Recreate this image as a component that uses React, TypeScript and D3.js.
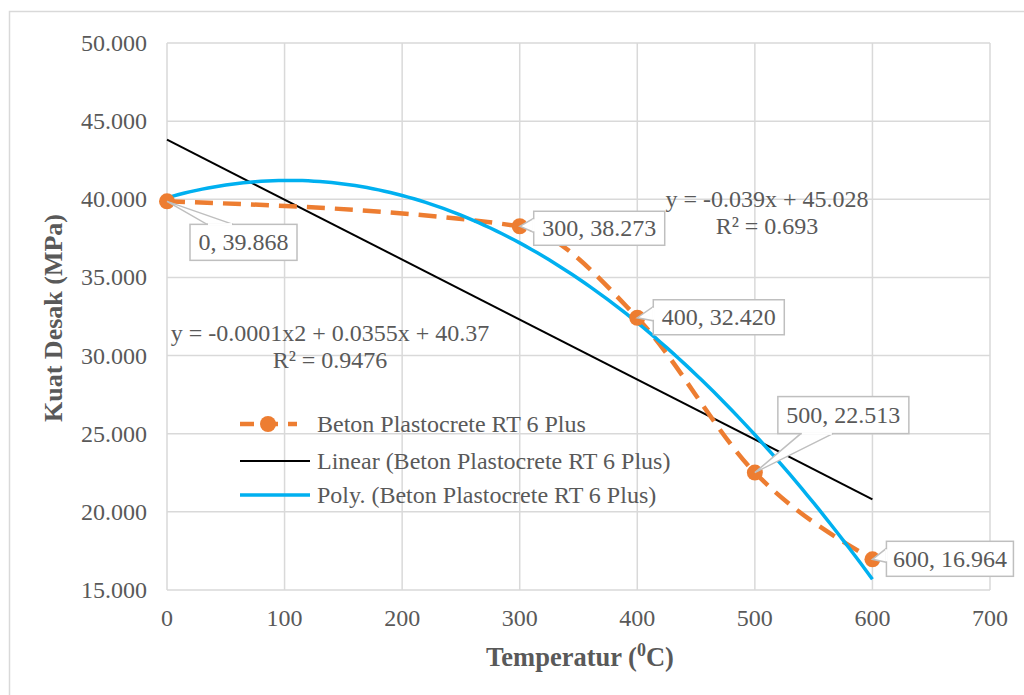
import React from "react";
import * as d3 from "d3";

const temps = [0, 300, 400, 500, 600];
const strength = [39.868, 38.273, 32.42, 22.513, 16.964];
const xTicks = [0, 100, 200, 300, 400, 500, 600, 700];
const yTicks = [15, 20, 25, 30, 35, 40, 45, 50];
const seriesName = "Beton Plastocrete RT 6 Plus";
const linEqText = ["y = -0.039x + 45.028", "R² = 0.693"];
const polyEqText = ["y = -0.0001x2 + 0.0355x + 40.37", "R² = 0.9476"];

// label placement (style): offset from the point, size, wedge side
const labelStyle = [
  { dx: 23, dy: 23, w: 107, h: 36, side: "top", a: 17, b: 43 },
  { dx: 14, dy: -15, w: 131, h: 34, side: "left", a: 7, b: 21 },
  { dx: 16, dy: -18, w: 131, h: 35, side: "left", a: 7, b: 21 },
  { dx: 23, dy: -76, w: 131, h: 37, side: "bottom", a: 23, b: 55 },
  { dx: 14, dy: -18, w: 127, h: 35, side: "left", a: 7, b: 21 },
];

function linFit(xs: number[], ys: number[]) {
  const n = xs.length;
  const mx = d3.mean(xs)!, my = d3.mean(ys)!;
  let sxy = 0, sxx = 0;
  for (let i = 0; i < n; i++) {
    sxy += (xs[i] - mx) * (ys[i] - my);
    sxx += (xs[i] - mx) ** 2;
  }
  const m = sxy / sxx;
  return (x: number) => my + m * (x - mx);
}

function quadFit(xs: number[], ys: number[]) {
  const S = (p: number) => d3.sum(xs, (x) => x ** p);
  const T = (p: number) => d3.sum(xs.map((x, i) => x ** p * ys[i]));
  const A = [
    [S(0), S(1), S(2), T(0)],
    [S(1), S(2), S(3), T(1)],
    [S(2), S(3), S(4), T(2)],
  ];
  for (let i = 0; i < 3; i++) {
    for (let k = i + 1; k < 3; k++) {
      const f = A[k][i] / A[i][i];
      for (let j = i; j < 4; j++) A[k][j] -= f * A[i][j];
    }
  }
  const c = [0, 0, 0];
  for (let i = 2; i >= 0; i--) {
    let s = A[i][3];
    for (let j = i + 1; j < 3; j++) s -= A[i][j] * c[j];
    c[i] = s / A[i][i];
  }
  return (x: number) => c[0] + c[1] * x + c[2] * x * x;
}

export default function App() {
  const W = 1024, H = 695;
  const x = d3.scaleLinear().domain([0, 700]).range([167, 990]);
  const y = d3.scaleLinear().domain([15, 50]).range([590, 43]);
  const font = "Liberation Serif, Times New Roman, DejaVu Serif, serif";
  const grey = "#595959";
  const grid = "#d9d9d9";

  const pts = temps.map((t, i) => [t, strength[i]] as [number, number]);
  const dataLine = d3
    .line<[number, number]>()
    .x((d) => x(d[0]))
    .y((d) => y(d[1]))
    .curve(d3.curveMonotoneX)(pts)!;

  const lin = linFit(temps, strength);
  const quad = quadFit(temps, strength);
  const xs = d3.range(0, 600.01, 5);
  const linPath = d3.line<number>().x((d) => x(d)).y((d) => y(lin(d)))([0, 600])!;
  const quadPath = d3.line<number>().x((d) => x(d)).y((d) => y(quad(d)))(xs)!;

  return (
    <svg
      width={W}
      height={H}
      style={{ position: "absolute", left: 0, top: 0, background: "#fff", fontFamily: font }}
    >
      <rect x={9.5} y={11.5} width={1030} height={700} fill="#fff" stroke={grid} strokeWidth={1.5} />
      {/* grid */}
      {yTicks.map((t) => (
        <line key={"gy" + t} x1={x(0)} x2={x(700)} y1={y(t)} y2={y(t)} stroke={grid} strokeWidth={1.5} />
      ))}
      {xTicks.map((t) => (
        <line key={"gx" + t} x1={x(t)} x2={x(t)} y1={y(15)} y2={y(50)} stroke={grid} strokeWidth={1.5} />
      ))}
      {/* tick labels */}
      {yTicks.map((t) => (
        <text key={"ty" + t} x={147} y={y(t) + 8} textAnchor="end" fontSize={24} fill={grey}>
          {d3.format(".3f")(t)}
        </text>
      ))}
      {xTicks.map((t) => (
        <text key={"tx" + t} x={x(t)} y={626} textAnchor="middle" fontSize={24} fill={grey}>
          {t}
        </text>
      ))}
      {/* axis titles */}
      <text x={580} y={666} textAnchor="middle" fontSize={26.5} fontWeight="bold" fill={grey}>
        Temperatur (<tspan fontSize={18} dy={-10}>0</tspan>
        <tspan dy={10}>C)</tspan>
      </text>
      <text
        transform="translate(62,318) rotate(-90)"
        textAnchor="middle"
        fontSize={26}
        fontWeight="bold"
        fill={grey}
      >
        Kuat Desak (MPa)
      </text>
      {/* trend lines */}
      <path d={linPath} fill="none" stroke="#000" strokeWidth={2} />
      <path d={dataLine} fill="none" stroke="#ED7D31" strokeWidth={4.5} strokeDasharray="18 10" />
      <path d={quadPath} fill="none" stroke="#00B0F0" strokeWidth={3.5} />
      {pts.map((d, i) => (
        <circle key={"m" + i} cx={x(d[0])} cy={y(d[1])} r={8} fill="#ED7D31" />
      ))}
      {/* data labels */}
      {pts.map((d, i) => {
        const px = x(d[0]), py = y(d[1]);
        const s = labelStyle[i];
        const bx = px + s.dx, by = py + s.dy;
        let tri: [number, number][];
        let cover: [number, number, number, number];
        if (s.side === "top") {
          tri = [[px, py], [bx + s.a, by], [bx + s.b, by]];
          cover = [bx + s.a + 1, by, bx + s.b - 1, by];
        } else if (s.side === "bottom") {
          tri = [[px, py], [bx + s.a, by + s.h], [bx + s.b, by + s.h]];
          cover = [bx + s.a + 1, by + s.h, bx + s.b - 1, by + s.h];
        } else {
          tri = [[px, py], [bx, by + s.a], [bx, by + s.b]];
          cover = [bx, by + s.a + 1, bx, by + s.b - 1];
        }
        return (
          <g key={"l" + i}>
            <polygon points={tri.map((p) => p.join(",")).join(" ")} fill="#fff" stroke="#bfbfbf" strokeWidth={1.5} />
            <rect x={bx} y={by} width={s.w} height={s.h} fill="#fff" stroke="#bfbfbf" strokeWidth={1.5} />
            <line x1={cover[0]} y1={cover[1]} x2={cover[2]} y2={cover[3]} stroke="#fff" strokeWidth={2.5} />
            <text x={bx + s.w / 2} y={by + s.h / 2 + 8} textAnchor="middle" fontSize={24} fill={grey}>
              {d[0] + ", " + d3.format(".3f")(d[1])}
            </text>
          </g>
        );
      })}
      {/* equations */}
      <text x={767} y={207} textAnchor="middle" fontSize={24} fill={grey}>{linEqText[0]}</text>
      <text x={767} y={234} textAnchor="middle" fontSize={24} fill={grey}>{linEqText[1]}</text>
      <text x={330} y={341} textAnchor="middle" fontSize={24} fill={grey}>{polyEqText[0]}</text>
      <text x={330} y={368} textAnchor="middle" fontSize={24} fill={grey}>{polyEqText[1]}</text>
      {/* legend */}
      <g>
        <line x1={240} x2={297} y1={424} y2={424} stroke="#ED7D31" strokeWidth={4.5} strokeDasharray="14 10" />
        <circle cx={268} cy={424} r={8} fill="#ED7D31" />
        <text x={317} y={432} fontSize={24} fill={grey}>{seriesName}</text>
        <line x1={240} x2={310} y1={461} y2={461} stroke="#000" strokeWidth={2} />
        <text x={317} y={469} fontSize={24} fill={grey}>{"Linear (" + seriesName + ")"}</text>
        <line x1={240} x2={310} y1={495} y2={495} stroke="#00B0F0" strokeWidth={3.5} />
        <text x={317} y={503} fontSize={24} fill={grey}>{"Poly. (" + seriesName + ")"}</text>
      </g>
    </svg>
  );
}
